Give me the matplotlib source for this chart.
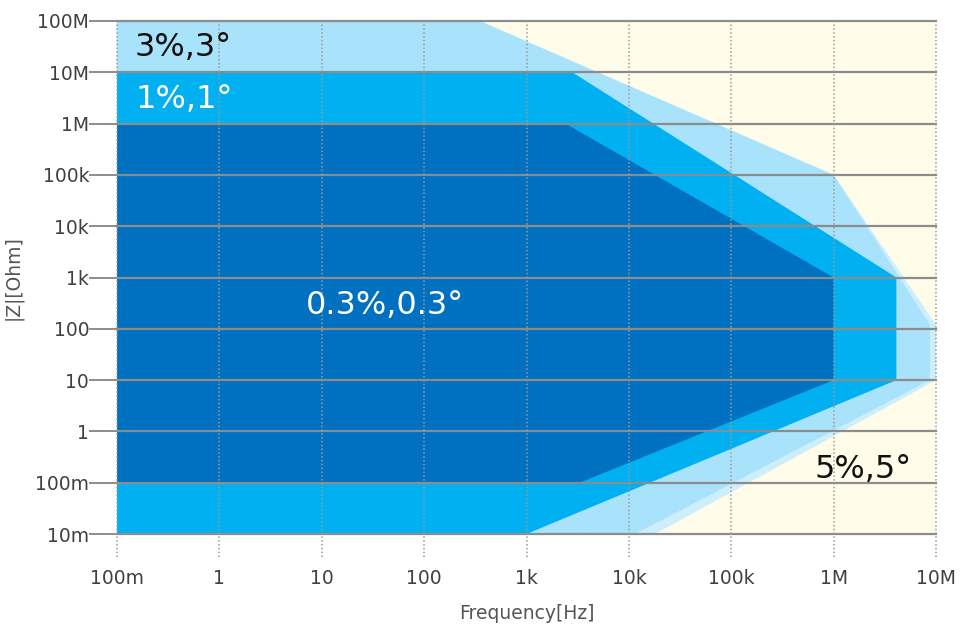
import matplotlib
matplotlib.use("Agg")
import matplotlib.pyplot as plt

# ---- data ----
x_ticks = [0.1, 1, 10, 100, 1e3, 1e4, 1e5, 1e6, 1e7]
x_labels = ["100m", "1", "10", "100", "1k", "10k", "100k", "1M", "10M"]
y_ticks = [0.01, 0.1, 1, 10, 100, 1e3, 1e4, 1e5, 1e6, 1e7, 1e8]
y_labels = ["10m", "100m", "1", "10", "100", "1k", "10k", "100k", "1M", "10M", "100M"]

# accuracy regions (polygon outlines, frequency [Hz] vs |Z| [Ohm])
pale_f = [0.1, 350, 1e6, 1e7, 1e7, 1.8e4, 0.1]
pale_z = [1e8, 1e8, 1e5, 120, 10, 0.01, 0.01]
acc3_f = [0.1, 350, 1e6, 8.7e6, 8.7e6, 1.15e4, 0.1]
acc3_z = [1e8, 1e8, 1e5, 120, 10, 0.01, 0.01]
acc1_f = [0.1, 2.8e3, 4.1e6, 4.1e6, 1e3, 0.1]
acc1_z = [1e7, 1e7, 1e3, 10, 0.01, 0.01]
acc03_f = [0.1, 2.4e3, 1e6, 1e6, 3.3e3, 0.1]
acc03_z = [1e6, 1e6, 1e3, 10, 0.1, 0.1]

region_labels = ["3%,3°", "1%,1°", "0.3%,0.3°", "5%,5°"]

# ---- figure ----
fig = plt.figure(figsize=(9.6, 6.34), dpi=100)
ax = fig.add_axes([117/960, 1-534/634, (936-117)/960, (534-21)/634])
ax.set_facecolor("#FFFDE9")
ax.set_xscale("log")
ax.set_yscale("log")
ax.set_xlim(0.1, 1e7)
ax.set_ylim(0.01, 1e8)

ax.fill(pale_f, pale_z, color="#CDEEFB", lw=0, zorder=1)
ax.fill(acc3_f, acc3_z, color="#A9E2FB", lw=0, zorder=2)
ax.fill(acc1_f, acc1_z, color="#00B0F0", lw=0, zorder=3)
ax.fill(acc03_f, acc03_z, color="#0070C0", lw=0, zorder=4)

for s in ax.spines.values():
    s.set_visible(False)

# grid: solid horizontal, dotted vertical (extending below as ticks)
for y in y_ticks:
    ax.axhline(y, color="#8C8C8C", lw=1.6, zorder=5, clip_on=False)
for x in x_ticks:
    ax.axvline(x, ymin=-0.045, ymax=1, color="#9A9A9A", lw=1.1,
               ls=(0, (1, 1.5)), zorder=5, clip_on=False)

ax.set_xticks(x_ticks)
ax.set_xticklabels(x_labels)
ax.set_yticks(y_ticks)
ax.set_yticklabels(y_labels)
ax.minorticks_off()
ax.tick_params(axis="x", length=0, pad=25, labelsize=13.5, labelcolor="#404040")
ax.tick_params(axis="y", length=20, width=1.4, color="#8C8C8C", pad=0,
               labelsize=13.5, labelcolor="#404040")

ax.set_xlabel("Frequency[Hz]", fontsize=13.5, color="#555555", labelpad=12)
ax.set_ylabel("|Z|[Ohm]", fontsize=13.5, color="#555555", labelpad=9)

ax.text(0.15, 3.1e7, region_labels[0], fontsize=23, color="#111111",
        va="center", ha="left", zorder=6)
ax.text(0.15, 3.0e6, region_labels[1], fontsize=23, color="white",
        va="center", ha="left", zorder=6)
ax.text(41, 280, region_labels[2], fontsize=23, color="white",
        va="center", ha="center", zorder=6)
ax.text(6.5e5, 0.18, region_labels[3], fontsize=23, color="#111111",
        va="center", ha="left", zorder=6)

fig.savefig("out.png", dpi=100, facecolor="white")
